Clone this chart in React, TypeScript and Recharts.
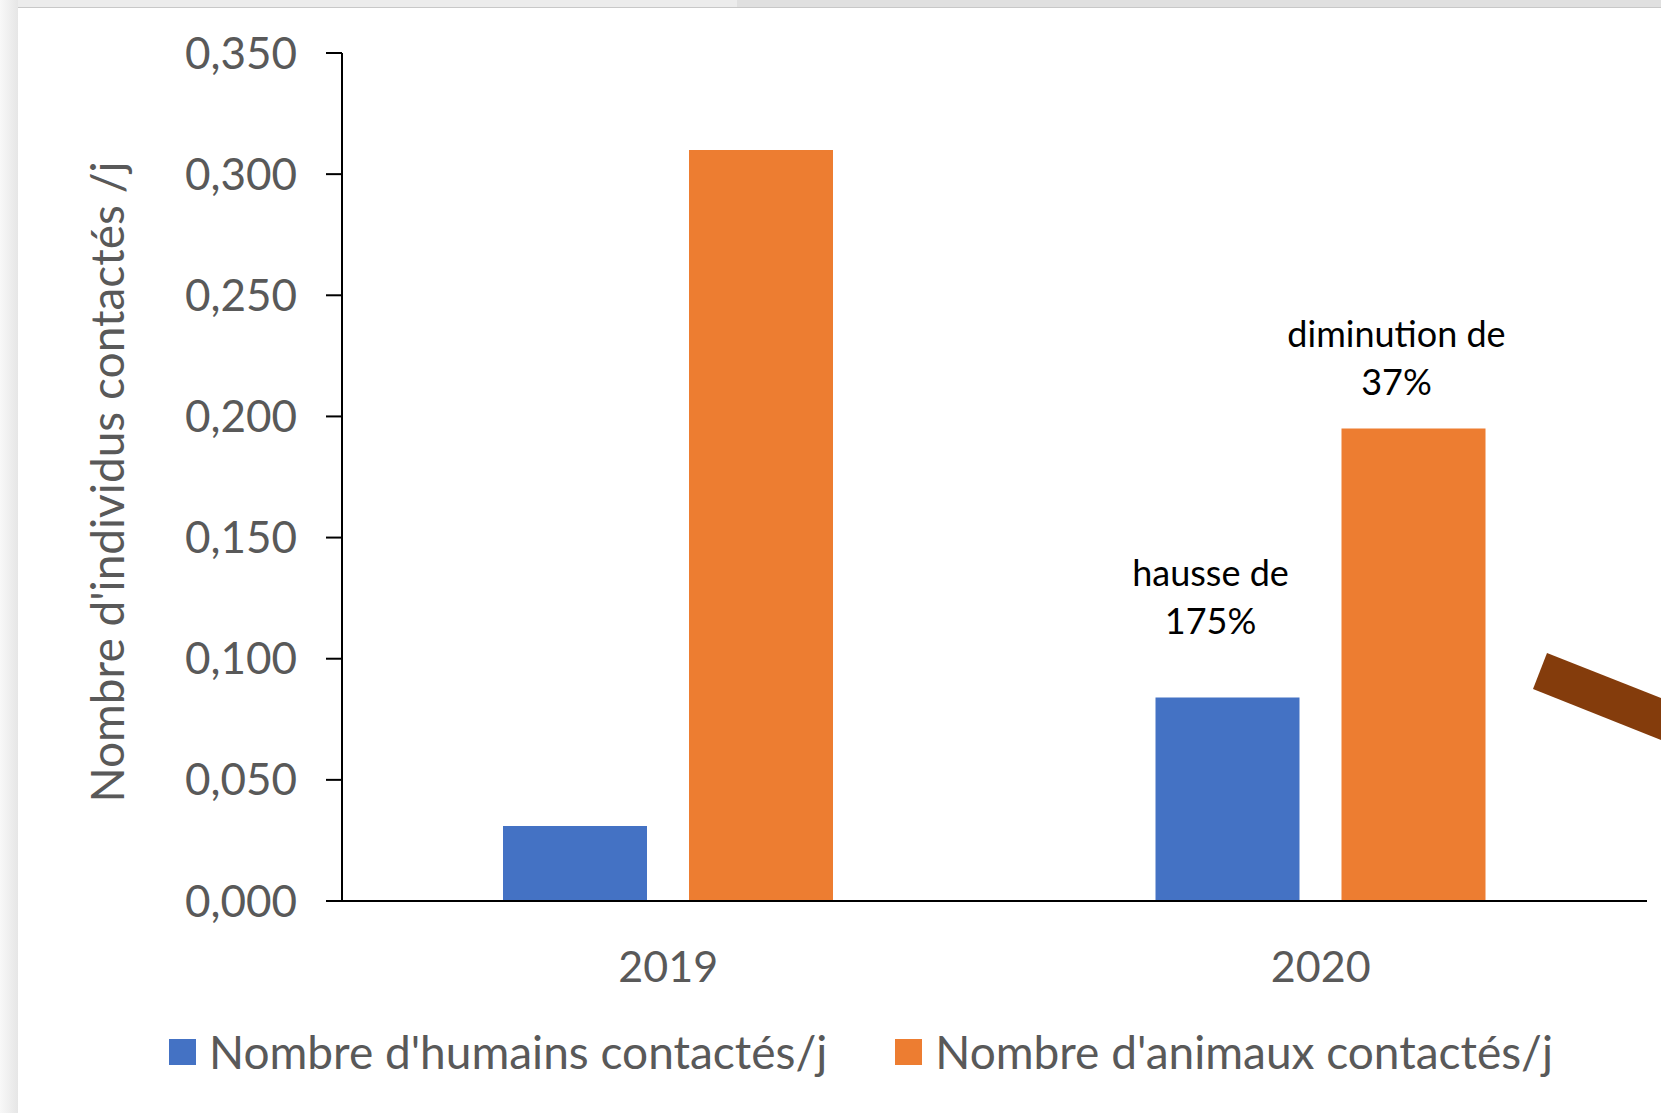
import { Bar, BarChart, LabelList, Legend, XAxis, YAxis } from 'recharts';

const annees = ['2019', '2020'];
const humains = [0.031, 0.084];
const animaux = [0.31, 0.195];
const notesHumains = [[], ['hausse de', '175%']];
const notesAnimaux = [[], ['diminution de', '37%']];
const yTicks = [0, 0.05, 0.1, 0.15, 0.2, 0.25, 0.3, 0.35];
const nomHumains = "Nombre d'humains contactés/j";
const nomAnimaux = "Nombre d'animaux contactés/j";
const titreY = "Nombre d'individus contactés /j";
const ordreLegende = [nomHumains, nomAnimaux];

const FONT = 'Lato, "Open Sans", sans-serif';
const GRIS = '#595959';

const data = annees.map((annee, i) => ({
  annee,
  humains: humains[i],
  animaux: animaux[i],
}));

// annotation above a bar, two lines
const renderNote = (notes: string[][], offsetY: number) => (props: any) => {
  const { x, y, width, index } = props;
  const lines = notes[index] || [];
  if (!lines.length) return null;
  const cx = x + width / 2 - 17;
  return (
    <text fontFamily={FONT} fontSize={36} fill='#000' textAnchor='middle'>
      {lines.map((l, k) => (
        <tspan key={k} x={cx} y={y - offsetY + k * 48} dominantBaseline='central'>
          {l}
        </tspan>
      ))}
    </text>
  );
};

const renderLegend = (props: any) => {
  const payload = [...(props.payload || [])].sort(
    (a: any, b: any) => ordreLegende.indexOf(a.value) - ordreLegende.indexOf(b.value)
  );
  return (
    <div
      style={{
        display: 'flex',
        alignItems: 'center',
        paddingLeft: 169,
        paddingBottom: 10,
        boxSizing: 'border-box',
        height: 112,
        fontFamily: FONT,
      }}
    >
      {payload.map((p: any, i: number) => (
        <div key={i} style={{ display: 'flex', alignItems: 'center', marginRight: 68 }}>
          <span style={{ width: 27, height: 26, background: p.color, marginRight: 13 }} />
          <span style={{ fontSize: 46, color: GRIS, lineHeight: 1 }}>{p.value}</span>
        </div>
      ))}
    </div>
  );
};

const renderTitreY = () => (
  <text
    x={106}
    y={482}
    transform='rotate(-90,106,482)'
    textAnchor='middle'
    dominantBaseline='central'
    fontFamily={FONT}
    fontSize={46}
    fill={GRIS}
  >
    {titreY}
  </text>
);

const App = () => {
  return (
    <div
      style={{
        position: 'absolute',
        left: 0,
        top: 0,
        width: 1661,
        height: 1113,
        background: '#fff',
        overflow: 'hidden',
      }}
    >
      <div style={{ position: 'absolute', left: 0, top: 0 }}>
        <BarChart
          width={1661}
          height={1113}
          data={data}
          margin={{ top: 53, right: 14, left: 0, bottom: 0 }}
          barCategoryGap={161}
          barGap={42}
        >
          <XAxis
            dataKey='annee'
            height={100}
            tickLine={false}
            axisLine={{ stroke: '#000', strokeWidth: 2 }}
            tickMargin={44}
            tick={{ fontSize: 43, fill: GRIS, fontFamily: FONT }}
          />
          <YAxis
            width={342}
            domain={[0, 0.35]}
            ticks={yTicks}
            interval={0}
            tickSize={16}
            tickMargin={29}
            tickFormatter={(v: number) => v.toFixed(3).replace('.', ',')}
            axisLine={{ stroke: '#000', strokeWidth: 2 }}
            tickLine={{ stroke: '#000', strokeWidth: 2 }}
            tick={{ fontSize: 44, fill: GRIS, fontFamily: FONT }}
            label={{ content: renderTitreY }}
          />
          <Legend verticalAlign='bottom' height={112} content={renderLegend} />
          <Bar dataKey='humains' name={nomHumains} fill='#4472C4' isAnimationActive={false}>
            <LabelList dataKey='humains' content={renderNote(notesHumains, 125)} />
          </Bar>
          <Bar dataKey='animaux' name={nomAnimaux} fill='#ED7D31' isAnimationActive={false}>
            <LabelList dataKey='animaux' content={renderNote(notesAnimaux, 96)} />
          </Bar>
        </BarChart>
      </div>

      {/* screenshot frame + cut-off arrow */}
      <svg
        width={1661}
        height={1113}
        style={{ position: 'absolute', left: 0, top: 0, pointerEvents: 'none' }}
      >
        <defs>
          <linearGradient id='bordGauche' x1='0' y1='0' x2='1' y2='0'>
            <stop offset='0%' stopColor='#f8f8f8' />
            <stop offset='100%' stopColor='#e6e6e6' />
          </linearGradient>
        </defs>
        <rect x={0} y={0} width={18} height={1113} fill='url(#bordGauche)' />
        <rect x={18} y={0} width={719} height={7} fill='#ececec' />
        <rect x={737} y={0} width={924} height={7} fill='#e0e0e0' />
        <rect x={18} y={7} width={1643} height={1} fill='#c8c8c8' />
        <polygon points='1547,653 1533,689 1661,740 1661,698' fill='#843C0C' />
      </svg>
    </div>
  );
};

export default App;
